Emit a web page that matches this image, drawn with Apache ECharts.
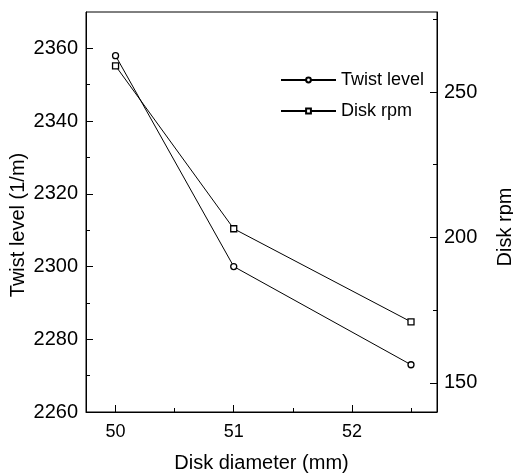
<!DOCTYPE html>
<html>
<head>
<meta charset="utf-8">
<script src="https://cdn.jsdelivr.net/npm/echarts@6/dist/echarts.min.js"></script>
<style>
  html, body { margin: 0; padding: 0; background: #fff; }
  #chart { width: 513px; height: 473px; }
</style>
</head>
<body>
<div id="chart"></div>
<script>
// Disk diameter (mm) and the two measured quantities
const diameters = [50, 51, 52.5];
const twistLevel = [2358, 2300, 2273];   // 1/m, left axis
const diskRpm = [259, 203, 171];         // rpm, right axis

// Tick positions
const xMajor = [50, 51, 52];
const xMinor = [50.5, 51.5, 52.5];
const twistMajor = [2260, 2280, 2300, 2320, 2340, 2360];
const rpmMajor = [150, 200, 250];
const rpmMinor = [175, 225, 275];

const FONT = '"Liberation Sans", Arial, sans-serif';
const txt = (size) => ({ color: '#000', fontFamily: FONT, fontSize: size });
const plain = (v) => String(v);

const xRange = { min: 49.75, max: 52.72 };
const rpmRange = { min: 140, max: 277.5 };

const chart = echarts.init(document.getElementById('chart'), null, { renderer: 'canvas' });

chart.setOption({
  backgroundColor: '#fff',
  animation: false,
  grid: {
    left: 86, right: 76, top: 12, bottom: 61,
    containLabel: false, outerBoundsMode: 'none',
    show: true, borderColor: '#000', borderWidth: 1
  },
  legend: {
    orient: 'vertical',
    left: 280, top: 70, padding: 0,
    itemWidth: 55, itemHeight: 6, itemGap: 11,
    textStyle: Object.assign(txt(18), { lineHeight: 20 }),
    data: ['Twist level', 'Disk rpm']
  },
  xAxis: [
    {
      type: 'value', position: 'bottom', ...xRange,
      name: 'Disk diameter (mm)', nameLocation: 'middle', nameGap: 41,
      nameTextStyle: txt(20),
      axisLine: { show: true, lineStyle: { color: '#000', width: 1 } },
      axisTick: { show: true, inside: true, length: 7, customValues: xMajor, lineStyle: { color: '#000' } },
      axisLabel: Object.assign({ customValues: xMajor, margin: 11, formatter: plain }, txt(18)),
      splitLine: { show: false }
    },
    {
      type: 'value', position: 'bottom', ...xRange,
      axisLine: { show: false },
      axisTick: { show: true, inside: true, length: 4, customValues: xMinor, lineStyle: { color: '#000' } },
      axisLabel: { show: false },
      splitLine: { show: false }
    }
  ],
  yAxis: [
    {
      type: 'value', position: 'left', min: 2260, max: 2370, interval: 20,
      name: 'Twist level (1/m)', nameLocation: 'middle', nameGap: 58,
      nameMoveOverlap: false,
      nameTextStyle: Object.assign(txt(20), { padding: [0, 26, 0, 0] }),
      axisLine: { show: true, lineStyle: { color: '#000', width: 1 } },
      axisTick: { show: true, inside: true, length: 7, customValues: twistMajor, lineStyle: { color: '#000' } },
      minorTick: { show: true, splitNumber: 2, length: 4, lineStyle: { color: '#000' } },
      axisLabel: Object.assign({ customValues: twistMajor, margin: 8, formatter: plain }, txt(20)),
      splitLine: { show: false }
    },
    {
      type: 'value', position: 'right', ...rpmRange,
      name: 'Disk rpm', nameLocation: 'middle', nameGap: 58,
      nameTextStyle: Object.assign(txt(20), { padding: [0, 30, 0, 0] }),
      axisLine: { show: true, lineStyle: { color: '#000', width: 1 } },
      axisTick: { show: true, inside: true, length: 7, customValues: rpmMajor, lineStyle: { color: '#000' } },
      axisLabel: Object.assign({ customValues: rpmMajor, margin: 7, formatter: plain }, txt(20)),
      splitLine: { show: false }
    },
    {
      type: 'value', position: 'right', ...rpmRange,
      axisLine: { show: false },
      axisTick: { show: true, inside: true, length: 4, customValues: rpmMinor, lineStyle: { color: '#000' } },
      axisLabel: { show: false },
      splitLine: { show: false }
    }
  ],
  series: [
    {
      name: 'Twist level', type: 'line', xAxisIndex: 0, yAxisIndex: 0,
      data: diameters.map((d, i) => [d, twistLevel[i]]),
      symbol: 'circle', symbolSize: 6,
      lineStyle: { color: '#000', width: 1 },
      itemStyle: { color: '#fff', borderColor: '#000', borderWidth: 1.3 }
    },
    {
      name: 'Disk rpm', type: 'line', xAxisIndex: 0, yAxisIndex: 1,
      data: diameters.map((d, i) => [d, diskRpm[i]]),
      symbol: 'rect', symbolSize: 6,
      lineStyle: { color: '#000', width: 1 },
      itemStyle: { color: '#fff', borderColor: '#000', borderWidth: 1.3 }
    }
  ]
});
</script>
</body>
</html>
